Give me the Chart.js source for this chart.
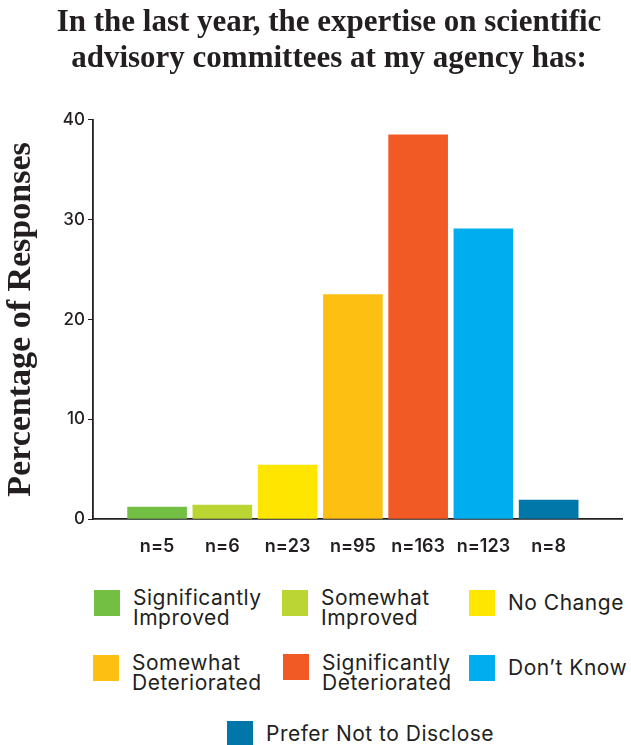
<!DOCTYPE html>
<html>
<head>
<meta charset="utf-8">
<script src="https://cdn.jsdelivr.net/npm/chart.js@4.4.0/dist/chart.umd.min.js"></script>
<style>
  html, body { margin: 0; padding: 0; background: #ffffff; }
  #wrap { position: relative; width: 631px; height: 745px; overflow: hidden; background: #fff; }
  #chartBox { position: absolute; left: 0; top: 0; width: 631px; height: 570px; }
  .leg { position: absolute; display: flex; align-items: flex-start; font-family: Inter, "Noto Sans", sans-serif;
         font-size: 21px; line-height: 20px; letter-spacing: 0.5px; color: #231f20; }
  .leg .sw { flex: none; width: 26px; height: 26px; margin-right: 13px; }
  .leg .tx { white-space: normal; }
</style>
</head>
<body>
<div id="wrap">
  <div id="chartBox"><canvas id="c"></canvas></div>
  <div id="legend"></div>
</div>
<script>
// ---- data ----
const titleLines = ['In the last year, the expertise on scientific', 'advisory committees at my agency has:'];
const yAxisTitle = 'Percentage of Responses';
const categories = ['Significantly Improved', 'Somewhat Improved', 'No Change', 'Somewhat Deteriorated', 'Significantly Deteriorated', 'Don\u2019t Know', 'Prefer Not to Disclose'];
const counts = [5, 6, 23, 95, 163, 123, 8];
const percentages = [1.2, 1.4, 5.4, 22.5, 38.5, 29.1, 1.9];
const colors = ['#72bf44', '#bbd532', '#ffe600', '#fdbf12', '#f15a24', '#00aeef', '#0077a8'];
const yTicks = [0, 10, 20, 30, 40];
const nLabels = counts.map(n => 'n=' + n);

// ---- legend layout (style only) ----
const legendLayout = [
  { left: 94,  top: 588, w: 150, swOff: 2 },
  { left: 282, top: 588, w: 150, swOff: 2 },
  { left: 469, top: 593, w: 150, swOff: -3 },
  { left: 93,  top: 653, w: 150, swOff: 2 },
  { left: 283, top: 653, w: 150, swOff: 1 },
  { left: 469, top: 658, w: 150, swOff: -3 },
  { left: 227, top: 724, w: 280, swOff: -3 }
];
const legendEl = document.getElementById('legend');
categories.forEach((name, i) => {
  const L = legendLayout[i];
  const item = document.createElement('div');
  item.className = 'leg';
  item.style.left = L.left + 'px';
  item.style.top = L.top + 'px';
  const sw = document.createElement('div');
  sw.className = 'sw';
  sw.style.background = colors[i];
  sw.style.marginTop = L.swOff + 'px';
  const tx = document.createElement('div');
  tx.className = 'tx';
  tx.style.width = L.w + 'px';
  tx.textContent = name;
  item.appendChild(sw);
  item.appendChild(tx);
  legendEl.appendChild(item);
});

// ---- chart ----
const ink = '#231f20';
new Chart(document.getElementById('c'), {
  type: 'bar',
  data: {
    datasets: [{
      label: 'Percentage of Responses',
      data: percentages.map((v, i) => ({ x: i, y: v })),
      backgroundColor: colors,
      borderWidth: 0,
      barThickness: 59
    }]
  },
  options: {
    responsive: true,
    maintainAspectRatio: false,
    animation: false,
    layout: { padding: { left: 32, right: 5, top: 0, bottom: 0 } },
    plugins: {
      legend: { display: false },
      tooltip: { enabled: false },
      title: {
        display: true,
        text: titleLines,
        color: ink,
        font: { family: '"Liberation Serif", serif', size: 31, weight: 'bold', lineHeight: 1.161 },
        padding: { top: 5, bottom: 43 }
      }
    },
    scales: {
      x: {
        type: 'linear',
        offset: false,
        min: -0.982,
        max: 7.134,
        afterFit: s => { s.height = 51; },
        grid: { display: false, drawTicks: false, offset: false },
        border: { display: true, color: ink, width: 1.8 },
        ticks: {
          stepSize: 1,
          includeBounds: false,
          autoSkip: false,
          maxRotation: 0,
          padding: 17,
          color: ink,
          font: { family: 'Inter, sans-serif', size: 18, weight: '600' },
          callback: v => (Number.isInteger(v) && v >= 0 && v < nLabels.length) ? nLabels[v] : ''
        }
      },
      y: {
        min: yTicks[0],
        max: yTicks[yTicks.length - 1],
        afterFit: s => { s.width = 61; },
        afterBuildTicks: s => { s.ticks = yTicks.map(v => ({ value: v })); },
        grid: { display: true, drawOnChartArea: false, drawTicks: true, tickLength: 5, color: ink },
        border: { display: true, color: ink, width: 1.8 },
        ticks: {
          padding: 3,
          color: ink,
          font: { family: 'Inter, sans-serif', size: 17, weight: '500' }
        },
        title: {
          display: true,
          text: yAxisTitle,
          color: ink,
          font: { family: '"Liberation Serif", serif', size: 34, weight: 'bold', lineHeight: 1.2 },
          padding: { top: -31, bottom: 0 }
        }
      }
    }
  }
});
</script>
</body>
</html>
